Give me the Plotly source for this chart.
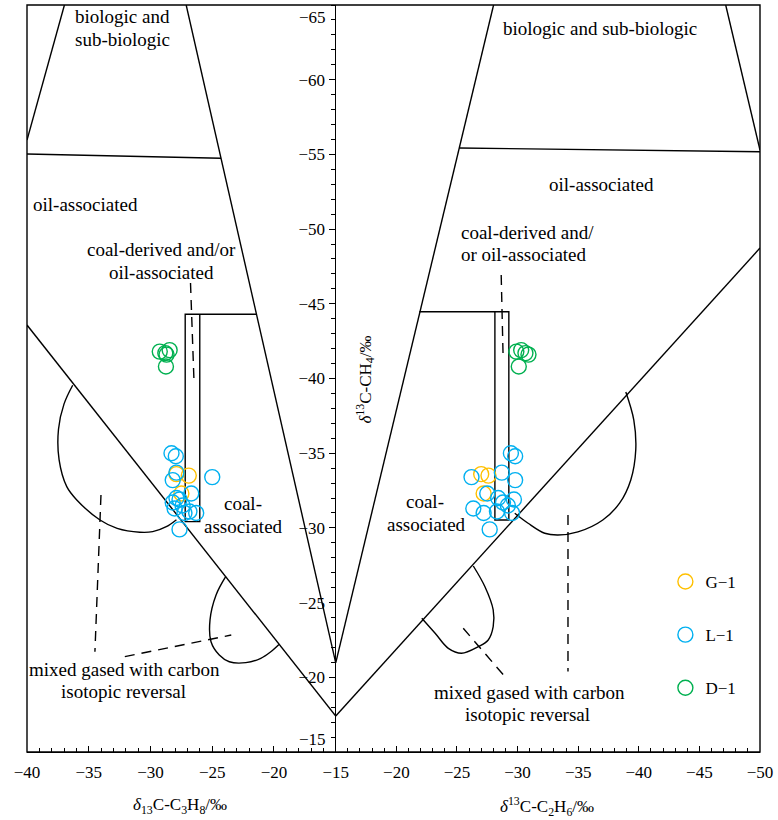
import plotly.graph_objects as go

# ---------------- data ----------------
series_names = ["G\u22121", "L\u22121", "D\u22121"]
series_colors = ["#FFC000", "#00B0F0", "#00B050"]

G1_C1 = [-33.6, -33.5, -32.3]
G1_C2 = [-27.0, -27.6, -27.2]
G1_C3 = [-27.9, -26.9, -27.5]

L1_C1 = [-35.0, -34.8, -33.7, -33.4, -33.2, -32.3, -32.0, -31.9, -31.7, -31.5, -31.3, -31.1, -31.0, -31.0, -29.9]
L1_C2 = [-29.45, -29.8, -28.7, -26.2, -29.8, -27.5, -28.4, -29.7, -28.8, -29.2, -26.35, -28.3, -27.2, -29.55, -27.7]
L1_C3 = [-28.3, -27.95, -27.9, -25.0, -28.2, -26.7, -27.9, -27.65, -28.2, -27.4, -28.05, -26.85, -27.25, -26.3, -27.65]

D1_C1 = [-41.9, -41.8, -41.7, -41.6, -40.8]
D1_C2 = [-30.3, -29.9, -30.65, -30.9, -30.1]
D1_C3 = [-28.45, -29.25, -28.8, -28.7, -28.75]

x_left_ticks = [-40, -35, -30, -25, -20, -15]
x_right_ticks = [-20, -25, -30, -35, -40, -45, -50]
y_ticks = [-60, -55, -50, -45, -40, -35, -30, -25, -20]

# boundary lines, left panel (delta13C-C3H8 vs delta13C-CH4)
L_bio_left_x = [-40, -36.97]
L_bio_left_y = [-55.96, -65]
L_bio_bottom_x = [-40, -24.29]
L_bio_bottom_y = [-55.03, -54.74]
L_bio_right_x = [-27.11, -15]
L_bio_right_y = [-65, -20.96]
L_coal_x = [-40, -15]
L_coal_y = [-43.58, -17.41]
L_rect_x = [-21.42, -27.19, -27.19, -26.01, -26.01, -27.19]
L_rect_y = [-44.3, -44.3, -30.42, -30.42, -44.3, -44.3]
L_lobe1_x = [-36.3, -37.0, -37.45, -37.4, -36.78, -35.97, -34.09, -32.7, -30.87, -29.82, -28.72, -27.9]
L_lobe1_y = [-39.55, -38.3, -36.6, -34.55, -32.76, -31.87, -30.53, -29.97, -29.71, -29.75, -30.08, -30.55]
L_lobe2_x = [-23.9, -24.69, -25.18, -25.1, -24.43, -23.62, -22.28, -21.07, -20.26, -19.6]
L_lobe2_y = [-26.75, -25.51, -23.84, -22.38, -21.49, -21.04, -20.98, -21.27, -21.71, -22.2]
L_dash1_x = [-26.76, -26.48]
L_dash1_y = [-46.39, -39.9]
L_dash2_x = [-34.01, -34.5]
L_dash2_y = [-32.2, -21.71]
L_dash3_x = [-32.08, -23.46]
L_dash3_y = [-21.38, -22.83]

# boundary lines, right panel (delta13C-C2H6 vs delta13C-CH4)
R_bio_right_x = [-47.17, -50]
R_bio_right_y = [-65, -55.29]
R_bio_bottom_x = [-25.19, -50]
R_bio_bottom_y = [-55.43, -55.18]
R_bio_left_x = [-15, -28.02]
R_bio_left_y = [-20.96, -65]
R_coal_x = [-15, -50]
R_coal_y = [-17.41, -48.73]
R_rect_x = [-21.9, -28.13, -28.13, -29.28, -29.28, -28.13]
R_rect_y = [-44.47, -44.47, -30.53, -30.53, -44.47, -44.47]
R_lobe1_x = [-38.93, -39.59, -39.75, -39.34, -38.43, -37.03, -34.98, -33.33, -32.24, -30.87, -29.77]
R_lobe1_y = [-39.1, -37.22, -35.21, -33.21, -31.67, -30.53, -29.73, -29.52, -29.64, -30.31, -30.98]
R_lobe2_x = [-26.35, -27.31, -27.99, -27.99, -27.58, -26.76, -25.38, -24.29, -23.2, -22.1]
R_lobe2_y = [-27.45, -26.06, -24.51, -23.39, -22.5, -22.05, -21.61, -21.94, -22.95, -23.95]
R_dash1_x = [-28.65, -28.81]
R_dash1_y = [-46.93, -41.37]
R_dash2_x = [-34.16, -34.16]
R_dash2_y = [-30.86, -20.38]
R_dash3_x = [-25.52, -29.08]
R_dash3_y = [-23.28, -19.93]

# ---------------- figure ----------------
FONT = "Liberation Serif"
W, H = 778, 820
ML, MR, MT, MB = 27, 15, 5, 68
PW, PH = W - ML - MR, H - MT - MB
SPLIT = (337 - ML) / PW


def px(x):
    return (x - ML) / PW


def py(y):
    return (H - MB - y) / PH


fig = go.Figure()


def add_line(xs, ys, axis, dash=None, smooth=False):
    fig.add_trace(go.Scatter(
        x=xs, y=ys, xaxis=axis, yaxis="y", mode="lines",
        line=dict(color="black", width=1.4, dash=dash,
                  shape="spline" if smooth else "linear", smoothing=1.0),
        showlegend=False, hoverinfo="skip"))


DASH = "10px,7px"
add_line(L_bio_left_x, L_bio_left_y, "x")
add_line(L_bio_bottom_x, L_bio_bottom_y, "x")
add_line(L_bio_right_x, L_bio_right_y, "x")
add_line(L_coal_x, L_coal_y, "x")
add_line(L_rect_x, L_rect_y, "x")
add_line(L_lobe1_x, L_lobe1_y, "x", smooth=True)
add_line(L_lobe2_x, L_lobe2_y, "x", smooth=True)
add_line(L_dash1_x, L_dash1_y, "x", dash=DASH)
add_line(L_dash2_x, L_dash2_y, "x", dash=DASH)
add_line(L_dash3_x, L_dash3_y, "x", dash=DASH)

add_line(R_bio_right_x, R_bio_right_y, "x2")
add_line(R_bio_bottom_x, R_bio_bottom_y, "x2")
add_line(R_bio_left_x, R_bio_left_y, "x2")
add_line(R_coal_x, R_coal_y, "x2")
add_line(R_rect_x, R_rect_y, "x2")
add_line(R_lobe1_x, R_lobe1_y, "x2", smooth=True)
add_line(R_lobe2_x, R_lobe2_y, "x2", smooth=True)
add_line(R_dash1_x, R_dash1_y, "x2", dash=DASH)
add_line(R_dash2_x, R_dash2_y, "x2", dash=DASH)
add_line(R_dash3_x, R_dash3_y, "x2", dash=DASH)

series = [
    (G1_C1, G1_C2, G1_C3),
    (L1_C1, L1_C2, L1_C3),
    (D1_C1, D1_C2, D1_C3),
]
for i, (c1, c2, c3) in enumerate(series):
    mk = dict(symbol="circle-open", size=15, color=series_colors[i],
              line=dict(width=1.4, color=series_colors[i]))
    fig.add_trace(go.Scatter(x=c3, y=c1, xaxis="x", yaxis="y", mode="markers",
                             marker=mk, name=series_names[i],
                             legendgroup=series_names[i], showlegend=True))
    fig.add_trace(go.Scatter(x=c2, y=c1, xaxis="x2", yaxis="y", mode="markers",
                             marker=mk, name=series_names[i],
                             legendgroup=series_names[i], showlegend=False))

axis_common = dict(
    showgrid=False, zeroline=False, showline=True, linecolor="black", linewidth=1.4,
    ticks="inside", ticklen=6, tickwidth=1.2, tickcolor="black",
    tickfont=dict(family=FONT, size=17, color="black"),
    ticklabelstandoff=4,
    minor=dict(ticks="inside", ticklen=4, tickwidth=1, tickcolor="black", dtick=1),
)

fig.update_layout(
    width=W, height=H,
    margin=dict(l=ML, r=MR, t=MT, b=MB),
    paper_bgcolor="white", plot_bgcolor="white",
    font=dict(family=FONT, size=17, color="black"),
    xaxis=dict(domain=[0, SPLIT], range=[-40, -15], anchor="y",
               tickvals=x_left_ticks, ticktext=[f"\u2212{abs(v)}" for v in x_left_ticks],
               **axis_common),
    xaxis2=dict(domain=[SPLIT, 1], range=[-15, -50], anchor="y",
                tickvals=x_right_ticks, ticktext=[f"\u2212{abs(v)}" for v in x_right_ticks],
                **axis_common),
    yaxis=dict(range=[-15, -65], anchor="x2", side="left",
               showgrid=False, zeroline=False, showline=True, linecolor="black", linewidth=1.4,
               ticks="outside", ticklen=6, tickwidth=1.2, tickcolor="black",
               tickvals=y_ticks,
               ticktext=[f"\u2212{abs(v)}" for v in y_ticks],
               tickfont=dict(family=FONT, size=17, color="black"),
               minor=dict(ticks="outside", ticklen=4, tickwidth=1, tickcolor="black", dtick=1)),
    legend=dict(x=px(668), y=py(564), xanchor="left", yanchor="top",
                font=dict(family=FONT, size=17, color="black"),
                bgcolor="rgba(0,0,0,0)", tracegroupgap=28, itemwidth=30),
    showlegend=True,
)

fig.add_shape(type="rect", xref="paper", yref="paper", x0=0, y0=0, x1=1, y1=1,
              line=dict(color="black", width=1.4), layer="above")

ann = []


def text(t, x, y, xanchor="center", size=19, angle=0):
    ann.append(dict(text=t, x=px(x), y=py(y), xref="paper", yref="paper",
                    xanchor=xanchor, yanchor="middle", showarrow=False, textangle=angle,
                    font=dict(family=FONT, size=size, color="black")))


text("biologic and", 73, 17, "left")
text("sub-biologic", 73, 39, "left")
text("oil-associated", 31, 204, "left")
text("coal-derived and/or", 162, 250)
text("oil-associated", 162, 272)
text("coal-", 244, 503)
text("associated", 244, 526)
text("mixed gased with carbon", 125, 669)
text("isotopic reversal", 124, 691)

text("biologic and sub-biologic", 602, 29)
text("oil-associated", 604, 184)
text("coal-derived and/", 461, 232, "left")
text("or oil-associated", 461, 254, "left")
text("coal-", 427, 501)
text("associated", 428, 524)
text("mixed gased with carbon", 532, 692)
text("isotopic reversal", 530, 714)

# end tick labels of the CH4 axis (drawn inset from the frame edges)
text("\u221265", 314, 18, size=17)
text("\u221215", 314, 739, size=17)

# axis titles
text("<i>\u03b4</i><sub>13</sub>C-C<sub>3</sub>H<sub>8</sub>/\u2030", 181, 806, size=17)
text("<i>\u03b4</i><sup>13</sup>C-C<sub>2</sub>H<sub>6</sub>/\u2030", 549, 806, size=17)
text("<i>\u03b4</i><sup>13</sup>C-CH<sub>4</sub>/\u2030", 366, 380, size=17, angle=-90)

fig.update_layout(annotations=ann)

fig.write_html("out.html")
